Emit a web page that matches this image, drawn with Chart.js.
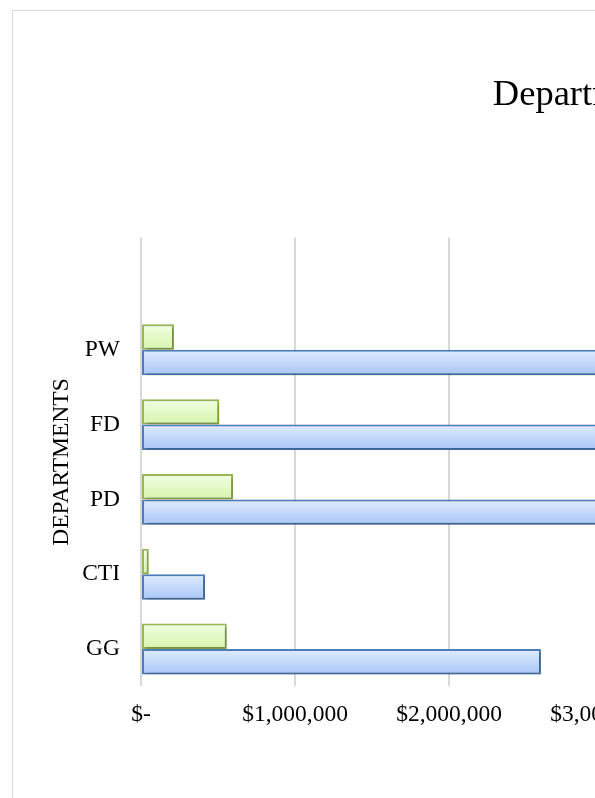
<!DOCTYPE html>
<html>
<head>
<meta charset="utf-8">
<script src="https://cdn.jsdelivr.net/npm/chart.js@4.4.1/dist/chart.umd.min.js"></script>
<style>
  html, body { margin: 0; padding: 0; background: #fff; overflow: hidden; }
  #frame { position: absolute; left: 12px; top: 10px; border: 1px solid #d9d9d9; background: #fff; }
  canvas { display: block; }
</style>
</head>
<body>
<div id="frame"><canvas id="deptChart" width="1435" height="800"></canvas></div>
<script>
// Chart values (top to bottom, first row is the empty category Excel left at the top)
const departments = ['', 'PW', 'FD', 'PD', 'CTI', 'GG'];
const spentValues = [null, 214000, 508000, 598000, 50000, 557000];
const budgetValues = [null, 3300000, 4200000, 5600000, 416000, 2597000];
const xTickStep = 1000000;
const xMax = 8000000;

const SERIF = "'Liberation Serif', 'Times New Roman', serif";
const CAT_PCT = 0.68;

// vertical gradient for each bar, worked out from the category scale
function barGradient(light, dark) {
  return (context) => {
    const chart = context.chart;
    const yScale = chart.scales && chart.scales.y;
    if (!chart.chartArea || !yScale || context.dataIndex === undefined) return dark;
    const center = yScale.getPixelForValue(context.dataIndex);
    const half = (yScale.height / departments.length) * CAT_PCT / 2;
    const top = context.datasetIndex === 0 ? center - half : center;
    const g = chart.ctx.createLinearGradient(0, top, 0, top + half);
    g.addColorStop(0, light);
    g.addColorStop(1, dark);
    return g;
  };
}

// soft drop shadow under the bars
const barShadow = {
  id: 'barShadow',
  beforeDatasetsDraw(chart) {
    const ctx = chart.ctx;
    ctx.save();
    ctx.shadowColor = 'rgba(0, 0, 0, 0.3)';
    ctx.shadowBlur = 4;
    ctx.shadowOffsetX = 2;
    ctx.shadowOffsetY = 2;
  },
  afterDatasetsDraw(chart) {
    chart.ctx.restore();
  }
};

const ctx = document.getElementById('deptChart').getContext('2d');

new Chart(ctx, {
  type: 'bar',
  data: {
    labels: departments,
    datasets: [
      {
        label: 'Spent',
        data: spentValues,
        backgroundColor: barGradient('#f1ffe2', '#d6f4ac'),
        borderColor: '#9bbb59',
        borderWidth: 2,
        borderSkipped: false
      },
      {
        label: 'Budget',
        data: budgetValues,
        backgroundColor: barGradient('#e1ecff', '#a7c6f6'),
        borderColor: '#4f81bd',
        borderWidth: 2,
        borderSkipped: false
      }
    ]
  },
  options: {
    indexAxis: 'y',
    responsive: false,
    animation: false,
    devicePixelRatio: 1,
    categoryPercentage: CAT_PCT,
    barPercentage: 1.0,
    layout: { padding: { left: 0, right: 75, top: 0, bottom: 0 } },
    plugins: {
      legend: { display: false },
      tooltip: { enabled: false },
      title: {
        display: true,
        text: 'Departmental Expenditures',
        color: '#000',
        font: { family: SERIF, size: 36.5, weight: 'normal' },
        padding: { top: 63, bottom: 119.8 }
      }
    },
    scales: {
      x: {
        min: 0,
        max: xMax,
        border: { display: false },
        grid: { color: '#d9d9d9', lineWidth: 2, drawTicks: false },
        ticks: {
          stepSize: xTickStep,
          color: '#000',
          padding: 14,
          maxRotation: 0,
          font: { family: SERIF, size: 23.5 },
          callback: (v) => v === 0 ? '$-' : '$' + v.toLocaleString('en-US')
        },
        afterFit: (scale) => { scale.height = 124.6; }
      },
      y: {
        border: { display: false },
        grid: { display: false, drawTicks: false },
        ticks: {
          color: '#000',
          padding: 21,
          font: { family: SERIF, size: 23.5 }
        },
        title: {
          display: true,
          text: 'DEPARTMENTS',
          color: '#000',
          font: { family: SERIF, size: 23.5 },
          padding: { top: 35, bottom: 0 }
        },
        afterFit: (scale) => { scale.width = 128; }
      }
    }
  },
  plugins: [barShadow]
});
</script>
</body>
</html>
